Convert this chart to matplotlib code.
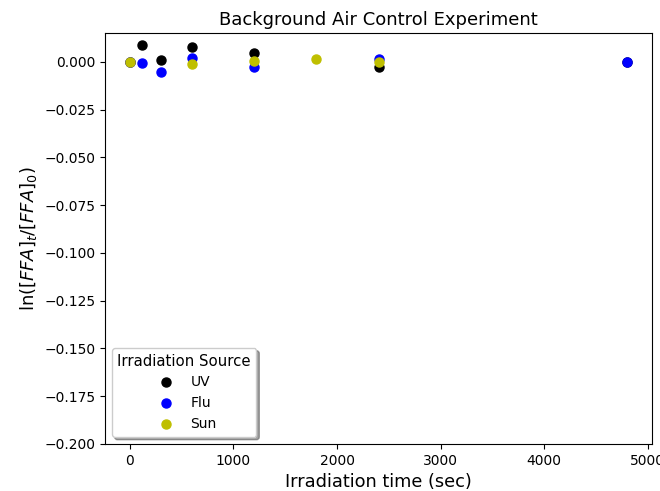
import matplotlib
matplotlib.use("Agg")
import matplotlib.pyplot as plt

# ---- Data ----
uv_t = [0, 120, 300, 600, 1200, 2400, 4800]
uv_y = [0.0, 0.009, 0.001, 0.0077, 0.0049, -0.0028, 0.0]

flu_t = [0, 120, 300, 600, 1200, 2400, 4800]
flu_y = [0.0, -0.0007, -0.0052, 0.0019, -0.0024, 0.0014, -0.0002]

sun_t = [0, 600, 1200, 1800, 2400]
sun_y = [0.0, -0.0009, 0.0005, 0.0014, -0.0002]

fig, ax = plt.subplots(figsize=(6.6, 4.91), dpi=100)
ax.plot(uv_t, uv_y, "o", color="k", ms=6.5, label="UV")
ax.plot(flu_t, flu_y, "o", color="b", ms=6.5, label="Flu")
ax.plot(sun_t, sun_y, "o", color="y", ms=6.5, label="Sun")

ax.set_ylim(-0.2, 0.0152)
ax.set_title("Background Air Control Experiment", fontsize=13)
ax.set_xlabel("Irradiation time (sec)", fontsize=12.8)
ax.set_ylabel(r"ln$([FFA]_t/[FFA]_0)$", fontsize=13)
ax.legend(title="Irradiation Source", loc="lower left", shadow=True,
          title_fontsize=10.7)

fig.subplots_adjust(left=0.159, right=0.988, top=0.933, bottom=0.096)
fig.savefig("out.png", dpi=100)
